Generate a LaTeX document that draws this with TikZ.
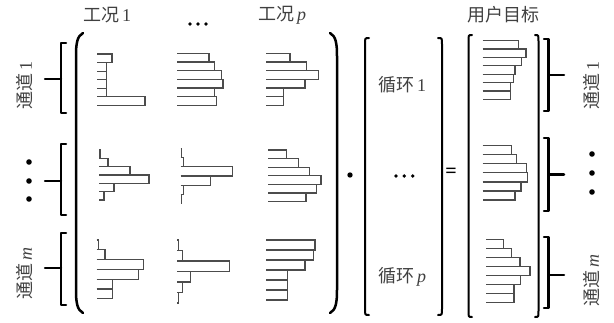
\documentclass[tikz,border=0pt]{standalone}
\usepackage{fontspec}
\setmainfont{Liberation Serif}
\newfontfamily\cjk{Noto Sans CJK SC}
\newcommand\zh[1]{{\cjk #1}}
\tikzset{
  lab/.style={font=\fontsize{18}{18}\selectfont, text=black!75, inner sep=0pt},
  brk/.style={line width=2.5pt, line cap=round, line join=round},
  bar/.style={draw=black!70, line width=1.2pt},
}
% horizontal bars: x0, top, bar height, lengths
\newcommand\hbars[4]{%
  \foreach \len [count=\k from 0] in {#4}
    \draw[bar] (#1,{#2+\k*#3}) -- ++(\len,0) -- ++(0,#3) -- (#1,{#2+(\k+1)*#3});
}
\begin{document}
\begin{tikzpicture}[x=1pt,y=-1pt]
  \useasboundingbox (0,0) rectangle (614,322);
  % column heads
  \node[lab] (case1) at (107,15) {\zh{工况}\,1};
  \node[lab] (casep) at (282,15) {\zh{工况}\,\textit{p}};
  \node[lab] (goal) at (503,15) {\zh{用户目标}};
  \fill (190,24) circle (1.9); \fill (198,24) circle (1.9); \fill (206,24) circle (1.9);

  % channel labels, left
  \node[lab, rotate=90] (chanL1) at (25,85) {\zh{通道}\,1};
  \node[lab, rotate=90] (chanLm) at (25,273) {\zh{通道}\,\textit{m}};
  \fill (29,162) circle (2.8); \fill (29,181) circle (2.8); \fill (29,199) circle (2.8);
  \draw[brk] (66,43) -- (61,43) -- (61,113) -- (66,113); \draw[brk] (45,79) -- (61,79);
  \draw[brk] (66,144) -- (61,144) -- (61,215) -- (66,215); \draw[brk] (45,181) -- (61,181);
  \draw[brk] (66,233) -- (61,233) -- (61,305) -- (66,305); \draw[brk] (45,268) -- (61,268);

  % matrix
  \draw[brk] (83,33) .. controls (77,36) and (76,44) .. (76,56) -- (76,290) .. controls (76,302) and (77,310) .. (83,313);
  \draw[brk] (330,33) .. controls (336,36) and (337,44) .. (337,56) -- (337,290) .. controls (337,302) and (336,310) .. (330,313);
  \hbars{97}{54}{8.55}{15,9.3,9.3,9.3,9.3,48}
  \hbars{177}{53.3}{8.67}{32,37.7,44.3,46,37.7,39.3}
  \hbars{266}{53.3}{8.67}{24,40.7,52.3,39,17.3,17.3}
  \hbars{99}{150}{8.33}{1,9,31,50,15,5}
  \hbars{180.7}{148.3}{9.2}{1,3,52,30,3,1}
  \hbars{268.3}{150}{8.6}{18.3,30,41,52.7,48.3,37.7}
  \hbars{96.7}{240}{9.8}{2,8.3,46.7,41.7,16,16}
  \hbars{177.3}{240}{10.5}{1,5,52,13,5,1}
  \hbars{266}{240}{10}{49,47.3,39,21.3,21.3,21.3}

  \fill (350,175) circle (2.7);

  % cycle vector
  \draw[brk, line width=2pt] (369,38) .. controls (365,38) .. (365,44) -- (365,309) .. controls (365,315) .. (369,315);
  \draw[brk, line width=2pt] (438,38) .. controls (442,38) .. (442,44) -- (442,309) .. controls (442,315) .. (438,315);
  \node[lab] (cyc1) at (402,85) {\zh{循环}\,1};
  \node[lab] (cycp) at (402,277) {\zh{循环}\,\textit{p}};
  \fill (396,176) circle (1.9); \fill (404.3,176) circle (1.9); \fill (412.7,176) circle (1.9);

  \node[font=\bfseries\fontsize{20}{20}\selectfont, inner sep=0pt] (eq) at (451,173) {=};

  % user target
  \draw[brk, line width=2pt] (472,35) .. controls (468.5,35) .. (468.5,41) -- (468.5,311) .. controls (468.5,317) .. (472,317);
  \draw[brk, line width=2pt] (535,35) .. controls (538.5,35) .. (538.5,41) -- (538.5,311) .. controls (538.5,317) .. (535,317);
  \hbars{482.7}{40.7}{8.37}{35.7,43.3,39,32.3,30.7,28,28}
  \hbars{482.7}{145.7}{9.05}{29,34,44,44.7,38.3,32.3}
  \hbars{486}{239.3}{9.06}{17.3,25.7,34,44,34.7,28,28}

  % channel labels, right
  \draw[brk] (544,39) -- (548.5,39) -- (548.5,111) -- (544,111); \draw[brk] (548.5,75) -- (564,75);
  \draw[brk] (544,138) -- (548.5,138) -- (548.5,211) -- (544,211); \draw[brk] (548.5,174.5) -- (564,174.5);
  \draw[brk] (544,237) -- (548.5,237) -- (548.5,308) -- (544,308); \draw[brk] (548.5,275) -- (564,275);
  \node[lab, rotate=90] (chanR1) at (592,85) {\zh{通道}\,1};
  \node[lab, rotate=90] (chanRm) at (592,280) {\zh{通道}\,\textit{m}};
  \fill (592,154) circle (2.8); \fill (592,173) circle (2.8); \fill (592,192) circle (2.8);
\end{tikzpicture}
\end{document}
